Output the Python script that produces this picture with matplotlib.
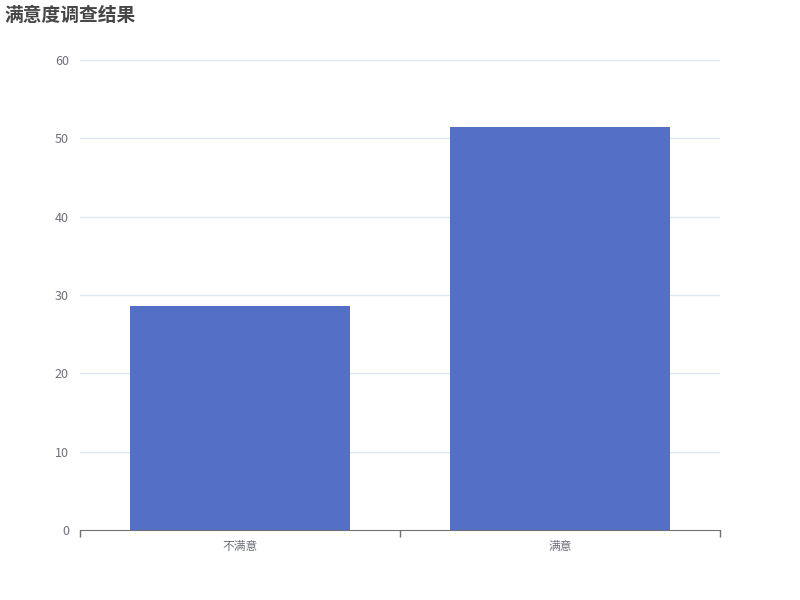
import matplotlib
matplotlib.use("Agg")
import matplotlib.pyplot as plt
import numpy as np

plt.rcParams['font.family'] = ['Noto Sans CJK SC', 'DejaVu Sans']

# data
categories = ["不满意", "满意"]
values = [28.6, 51.4]
y_ticks = [0, 10, 20, 30, 40, 50, 60]

BAR = "#5470c6"
AXIS = "#6E7079"
GRID = "#E0E6F1"

fig = plt.figure(figsize=(8, 6), dpi=100, facecolor="white")
ax = fig.add_axes([0.1, 1 - 530 / 600, 0.8, 470 / 600])

x = np.arange(len(categories))
ax.bar(x, values, width=0.6875, color=BAR, zorder=2)

ax.set_xlim(-0.5, len(categories) - 0.5)
ax.set_ylim(0, 60)
ax.set_yticks(y_ticks)
ax.set_yticklabels([str(v) for v in y_ticks], color=AXIS, fontsize=9)
ax.tick_params(axis="y", length=0, pad=8)

# category labels centered, ticks on boundaries
ax.set_xticks(np.arange(-0.5, len(categories), 1.0))
ax.set_xticklabels([""] * (len(categories) + 1))
ax.set_xticks(x, minor=True)
ax.set_xticklabels(categories, minor=True, color=AXIS, fontsize=8.5)
ax.tick_params(axis="x", which="major", length=5, color=AXIS, width=1)
ax.tick_params(axis="x", which="minor", length=0, pad=7)

for v in y_ticks[1:]:
    ax.axhline(v, color=GRID, linewidth=1, zorder=1)

for s in ("top", "right", "left"):
    ax.spines[s].set_visible(False)
ax.spines["bottom"].set_color(AXIS)
ax.spines["bottom"].set_zorder(3)

fig.text(5 / 800, 1 - 15 / 600, "满意度调查结果", fontsize=13.5, fontweight="bold",
         color="#464646", ha="left", va="center")

fig.savefig("out.png", dpi=100, facecolor="white")
